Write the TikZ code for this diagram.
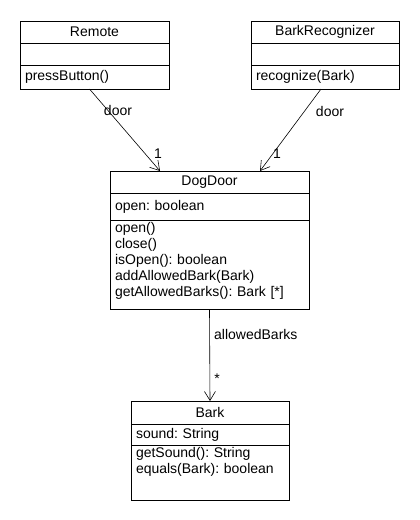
\documentclass[tikz,border=0pt]{standalone}
\usepackage{fontspec}
\setmainfont{Liberation Sans}
\usetikzlibrary{arrows.meta}
\frenchspacing
\begin{document}
\begin{tikzpicture}[
    x=1pt, y=-1pt,
    font=\fontsize{14}{16}\selectfont,
    classhead/.style={draw, anchor=north west, outer sep=0pt, minimum width=#1, minimum height=22pt, inner sep=0pt},
    classpart/.style={draw, anchor=north west, outer sep=0pt, text width=#1-10pt, align=left, inner xsep=5pt, inner ysep=0pt},
    assoc/.style={-{Straight Barb[length=9pt,width=11pt]}, semithick},
    rolelabel/.style={inner sep=1pt}
]
    \useasboundingbox (0,0) rectangle (420,520);

    % classes
    \node[classhead=149pt] (remote) at (20,21) {Remote};
    \node[classpart=149pt, minimum height=22pt] (remoteattr) at (remote.south west) {};
    \node[classpart=149pt, minimum height=24pt] (remoteops) at (remoteattr.south west) {pressButton()};

    \node[classhead=148pt] (recognizer) at (251,21) {BarkRecognizer};
    \node[classpart=148pt, minimum height=22pt] (recognizerattr) at (recognizer.south west) {};
    \node[classpart=148pt, minimum height=24pt] (recognizerops) at (recognizerattr.south west) {recognize(Bark)};

    \node[classhead=199pt] (dogdoor) at (110,171) {DogDoor};
    \node[classpart=199pt, minimum height=27pt] (dogdoorattr) at (dogdoor.south west) {open: boolean};
    \node[classpart=199pt, text height=12pt, text depth=77pt] (dogdoorops) at (dogdoorattr.south west)
        {open()\\close()\\isOpen(): boolean\\addAllowedBark(Bark)\\getAllowedBarks(): Bark [*]};

    \node[classhead=158pt, minimum height=23pt] (bark) at (131,401) {Bark};
    \node[classpart=158pt, minimum height=21pt] (barkattr) at (bark.south west) {sound: String};
    \node[classpart=158pt, text height=12pt, text depth=43pt] (barkops) at (barkattr.south west)
        {getSound(): String\\equals(Bark): boolean};

    % association ends
    \coordinate (remoteend) at ([xshift=50pt]dogdoor.north west);
    \coordinate (recognizerend) at ([xshift=150pt]dogdoor.north west);

    \draw[assoc] ([xshift=-5pt]remoteops.south) -- (remoteend);
    \draw[assoc] ([xshift=-4pt]recognizerops.south) -- (recognizerend);
    \draw[assoc] (dogdoorops.south) -- (bark.north);

    % labels
    \node[rolelabel] (remoterole) at (118,110) {door};
    \node[rolelabel] (remotemult) at (158,154) {1};
    \node[rolelabel] (recognizerrole) at (330,111) {door};
    \node[rolelabel] (recognizermult) at (277,154) {1};
    \node[rolelabel, anchor=west] (barksrole) at (213,334) {allowedBarks};
    \node[rolelabel] (barksmult) at (217,379) {*};
\end{tikzpicture}
\end{document}
